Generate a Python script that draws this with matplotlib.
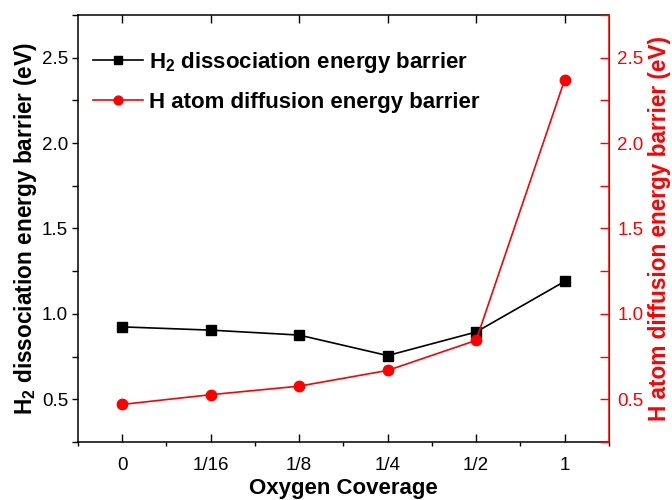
import numpy as np
import matplotlib.pyplot as plt
from matplotlib.ticker import MultipleLocator, FixedLocator

plt.rcParams['font.family'] = ['Liberation Sans', 'DejaVu Sans']
plt.rcParams['mathtext.default'] = 'regular'

coverage = ['0', '1/16', '1/8', '1/4', '1/2', '1']
h2_dissociation = [0.924, 0.905, 0.876, 0.756, 0.894, 1.19]
h_diffusion = [0.47, 0.527, 0.577, 0.669, 0.845, 2.37]

x = np.arange(len(coverage))

fig = plt.figure(figsize=(6.72, 5.0), dpi=100)
ax = fig.add_axes([0.116, 0.116, 0.79, 0.854])
ax2 = ax.twinx()

l1, = ax.plot(x, h2_dissociation, color='black', lw=1.2, marker='s', ms=6.5,
              label='H$_2$ dissociation energy barrier', zorder=3)
l2, = ax2.plot(x, h_diffusion, color='red', lw=1.2, marker='o', ms=7.5,
               label='H atom diffusion energy barrier', zorder=3)

ax.set_xlim(-0.5, 5.5)
ax.set_ylim(0.25, 2.75)
ax2.set_ylim(0.25, 2.75)

ax.set_xticks(x)
ax.set_xticklabels(coverage)
ax.xaxis.set_minor_locator(FixedLocator(np.arange(-0.5, 6, 1.0)))
ax.yaxis.set_major_locator(MultipleLocator(0.5))
ax.yaxis.set_minor_locator(MultipleLocator(0.25))
ax2.yaxis.set_major_locator(MultipleLocator(0.5))
ax2.yaxis.set_minor_locator(MultipleLocator(0.25))

ax.tick_params(axis='x', which='major', direction='in', length=6, width=1,
               top=True, labelsize=13.5, pad=11)
ax.tick_params(axis='x', which='minor', direction='out', length=3, width=1)
ax.tick_params(axis='y', which='both', direction='out', length=4, width=1,
               labelsize=13.5, pad=3)
ax2.tick_params(axis='y', which='both', direction='in', length=6.5, width=1,
                colors='red', labelsize=13.5, pad=6)

for sp in ['left', 'bottom', 'top']:
    ax.spines[sp].set_linewidth(1.1)
ax2.spines['right'].set_color('red')
ax2.spines['right'].set_linewidth(1.1)
for sp in ['left', 'bottom', 'top']:
    ax2.spines[sp].set_visible(False)

ax.set_xlabel('Oxygen Coverage', fontsize=16, fontweight='bold', labelpad=3)
ax.set_ylabel('H$_2$ dissociation energy barrier (eV)', fontsize=16.3,
              fontweight='bold', labelpad=2)
ax2.set_ylabel('H atom diffusion energy barrier (eV)', fontsize=16.3,
               fontweight='bold', color='red', labelpad=3)

leg = ax2.legend(handles=[l1, l2], loc='upper left', bbox_to_anchor=(-0.01, 0.965),
                 frameon=False, handlelength=2.25, handletextpad=0.3,
                 labelspacing=0.75, markerscale=0.85,
                 prop={'size': 16, 'weight': 'bold'})

fig.savefig('out.png', dpi=100)
